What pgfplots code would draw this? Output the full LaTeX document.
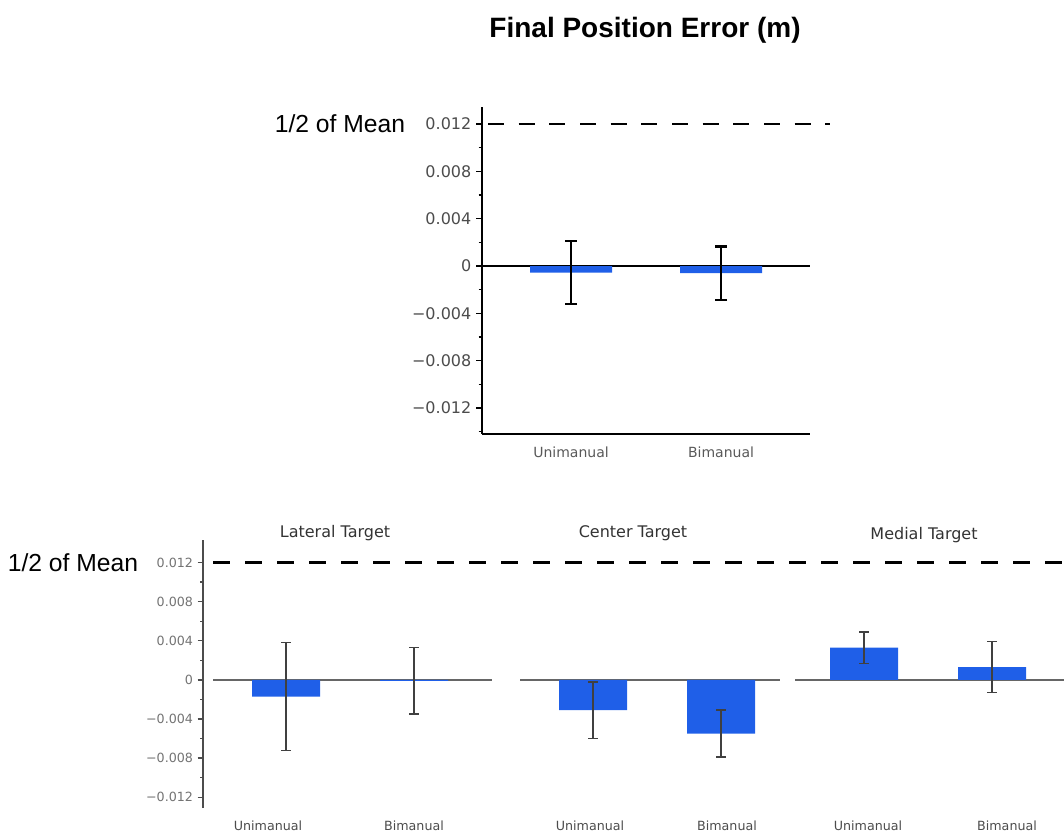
\documentclass[border=0pt]{standalone}
\usepackage{fontspec}
\setmainfont{Liberation Sans}
\newfontfamily\dv{DejaVu Sans}
\usepackage{pgfplots}
\pgfplotsset{compat=1.18}
\definecolor{barblue}{RGB}{31,95,232}
\begin{document}
\begin{tikzpicture}[x=1pt,y=1pt]
\path[use as bounding box] (0,0) rectangle (798,624.75);
\node[font=\fontsize{21}{24}\selectfont\bfseries] at (483.75,602.25) {Final Position Error (m)};
\node[font=\fontsize{18.5}{22}\selectfont] at (255,531.75) {1/2 of Mean};
\node[font=\fontsize{18.5}{22}\selectfont] at (54.75,202.5) {1/2 of Mean};
\node[font=\dv\fontsize{12}{14}\selectfont, text=black!80] at (251.25,225) {Lateral Target};
\node[font=\dv\fontsize{12}{14}\selectfont, text=black!80] at (474.75,225) {Center Target};
\node[font=\dv\fontsize{12}{14}\selectfont, text=black!80] at (693,223.5) {Medial Target};

% ---------- top panel ----------
\begin{axis}[at={(361.5pt,299.25pt)}, anchor=south west, scale only axis,
  width=246pt, height=245.25pt,
  xmin=482, xmax=810, ymin=-0.0142, ymax=0.01344,
  scaled y ticks=false,
  axis x line=bottom, axis y line=left,
  axis line style={-, line width=1.5pt, black},
  ytick={-0.012,-0.008,-0.004,0,0.004,0.008,0.012},
  yticklabels={−0.012,−0.008,−0.004,0,0.004,0.008,0.012},
  minor ytick={-0.014,-0.010,-0.006,-0.002,0.002,0.006,0.010},
  tick align=outside, major tick length=4.5pt, minor tick length=2.5pt,
  ytick style={line width=1.2pt, black},
  minor y tick style={line width=1.2pt, black},
  xtick={571,721}, xticklabels={Unimanual,Bimanual},
  xtick style={draw=none},
  xticklabel style={font=\dv\fontsize{10.5}{12}\selectfont, text=black!65, anchor=center, yshift=-9pt},
  yticklabel style={font=\dv\fontsize{12}{14}\selectfont, text=black!70},
  clip=false]
\addplot[black, line width=1.5pt, forget plot] coordinates {(482,0) (810,0)};
\addplot[black, line width=1.8pt, dash pattern=on 12pt off 11pt, forget plot] coordinates {(488,0.012) (830,0.012)};
\addplot[ybar, bar width=61.5pt, fill=barblue, draw=none,
  error bars/.cd, y dir=both, y explicit,
  error bar style={line width=1.6pt, black},
  error mark options={rotate=90, mark size=4.5pt, line width=1.6pt, black}]
  coordinates {(571,-0.00055) +- (0,0.00265) (721,-0.0006) +- (0,0.00225)};
\end{axis}

% ---------- bottom panels ----------
\begin{axis}[at={(152.25pt,18.75pt)}, anchor=south west, scale only axis,
  width=645.75pt, height=201pt,
  xmin=203, xmax=1064, ymin=-0.0131, ymax=0.0143,
  scaled y ticks=false,
  axis x line=bottom, axis y line=left,
  x axis line style={draw=none},
  y axis line style={-, line width=1.2pt, black!70},
  ytick={-0.012,-0.008,-0.004,0,0.004,0.008,0.012},
  yticklabels={−0.012,−0.008,−0.004,0,0.004,0.008,0.012},
  minor ytick={-0.010,-0.006,-0.002,0.002,0.006,0.010},
  tick align=outside, major tick length=4pt, minor tick length=2pt,
  ytick style={line width=1pt, black!70},
  minor y tick style={line width=1pt, black!70},
  xtick={268,414,590,727,868,1007},
  xticklabels={Unimanual,Bimanual,Unimanual,Bimanual,Unimanual,Bimanual},
  xtick style={draw=none},
  xticklabel style={font=\dv\fontsize{9.5}{11}\selectfont, text=black!70, anchor=center, yshift=-9pt},
  yticklabel style={font=\dv\fontsize{9.5}{11}\selectfont, text=black!55},
  clip=false]
\addplot[black!60, line width=1.3pt, forget plot] coordinates {(213,0) (492,0)};
\addplot[black!60, line width=1.3pt, forget plot] coordinates {(520,0) (780,0)};
\addplot[black!60, line width=1.3pt, forget plot] coordinates {(795,0) (1064,0)};
\addplot[black, line width=1.8pt, dash pattern=on 13pt off 11pt, forget plot] coordinates {(213,0.012) (1064,0.012)};
\addplot[ybar, bar width=51pt, fill=barblue, draw=none,
  error bars/.cd, y dir=both, y explicit,
  error bar style={line width=1.1pt, black!75},
  error mark options={rotate=90, mark size=3.5pt, line width=1.1pt, black!75}]
  coordinates {
   (286,-0.0017) +- (0,0.0055)
   (414,-0.0001) +- (0,0.0034)
   (593,-0.0031) +- (0,0.0029)
   (721,-0.0055) +- (0,0.0024)
   (864,0.0033) +- (0,0.0016)
   (992,0.0013) +- (0,0.0026)};
\end{axis}
\end{tikzpicture}
\end{document}
